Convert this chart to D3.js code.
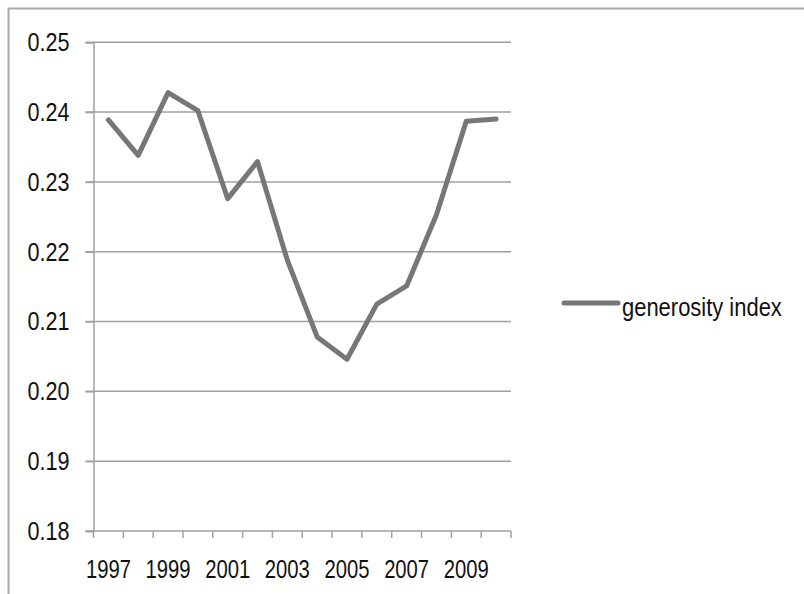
<!DOCTYPE html>
<html>
<head>
<meta charset="utf-8">
<script src="https://cdn.jsdelivr.net/npm/d3@7"></script>
<style>
  html, body { margin: 0; padding: 0; background: #fff; }
  svg { display: block; }
  text { font-family: "Liberation Sans", Arial, sans-serif; fill: #111; }
</style>
</head>
<body>
<svg id="chart" width="804" height="594"></svg>
<script>
const years = [1997, 1998, 1999, 2000, 2001, 2002, 2003, 2004, 2005, 2006, 2007, 2008, 2009, 2010];
const generosityIndex = [0.2389, 0.2338, 0.2428, 0.2402, 0.2276, 0.2329, 0.2188, 0.2078, 0.2046, 0.2125, 0.2151, 0.2253, 0.2387, 0.2390];
const yTicks = [0.18, 0.19, 0.20, 0.21, 0.22, 0.23, 0.24, 0.25];
const xLabels = [1997, 1999, 2001, 2003, 2005, 2007, 2009];
const seriesName = "generosity index";

(function () {
const svg = d3.select("#chart");
const gridColor = "#a0a0a0";
const lineColor = "#777777";
const fs = 26;

svg.append("path")
  .attr("d", "M8.5,820 L8.5,8.5 L900,8.5")
  .attr("fill", "none").attr("stroke", "#a8a8a8").attr("stroke-width", 2);

const mLeft = 93.5, mRight = 511, mTop = 42.3, mBottom = 531;

const x = d3.scaleBand().domain(years).range([mLeft, mRight]).paddingInner(0).paddingOuter(0);
const y = d3.scaleLinear().domain([0.18, 0.25]).range([mBottom, mTop]);

svg.append("g").selectAll("line").data(yTicks.filter(d => d > 0.18)).join("line")
  .attr("x1", mLeft - 8).attr("x2", mRight)
  .attr("y1", d => y(d)).attr("y2", d => y(d))
  .attr("stroke", gridColor).attr("stroke-width", 1.5);

const yAxis = d3.axisLeft(y).tickValues(yTicks).tickFormat(d3.format(".2f")).tickSize(8).tickPadding(16);
const gy = svg.append("g").attr("transform", `translate(${mLeft},0)`).call(yAxis);
gy.select(".domain").attr("stroke", gridColor).attr("stroke-width", 1.5);
gy.selectAll(".tick line").attr("stroke", gridColor).attr("stroke-width", 1.5);
gy.selectAll(".tick text").attr("font-size", fs).attr("fill", "#111")
  .attr("textLength", 42).attr("lengthAdjust", "spacingAndGlyphs")
  .style("font-family", '"Liberation Sans", Arial, sans-serif');

const gx = svg.append("g");
gx.append("line").attr("x1", mLeft - 8).attr("x2", mRight).attr("y1", mBottom).attr("y2", mBottom)
  .attr("stroke", gridColor).attr("stroke-width", 1.5);
const boundaries = years.map(d => x(d)).concat([x(years[years.length - 1]) + x.bandwidth()]);
gx.selectAll("line.tk").data(boundaries).join("line").attr("class", "tk")
  .attr("x1", d => d).attr("x2", d => d).attr("y1", mBottom).attr("y2", mBottom + 7)
  .attr("stroke", gridColor).attr("stroke-width", 1.5);
gx.selectAll("text").data(xLabels).join("text")
  .attr("x", d => x(d) + x.bandwidth() / 2).attr("y", 578)
  .attr("text-anchor", "middle").attr("font-size", fs)
  .attr("textLength", 45).attr("lengthAdjust", "spacingAndGlyphs")
  .text(d => d);

const line = d3.line()
  .x((d, i) => x(years[i]) + x.bandwidth() / 2)
  .y(d => y(d));
svg.append("path").datum(generosityIndex)
  .attr("d", line)
  .attr("fill", "none").attr("stroke", lineColor).attr("stroke-width", 5)
  .attr("stroke-linejoin", "round").attr("stroke-linecap", "round");

const lg = svg.append("g");
lg.append("line").attr("x1", 564).attr("x2", 618).attr("y1", 303).attr("y2", 303)
  .attr("stroke", lineColor).attr("stroke-width", 5).attr("stroke-linecap", "round");
const lgText = lg.append("g").append("text").attr("x", 0).attr("y", 0)
  .attr("font-size", fs)
  .text(seriesName);
const natural = lgText.node().getComputedTextLength() || 189;
const sx = 160 / natural;
d3.select(lgText.node().parentNode).attr("transform", `translate(622,316) scale(${sx},1)`);
})();
</script>
</body>
</html>
